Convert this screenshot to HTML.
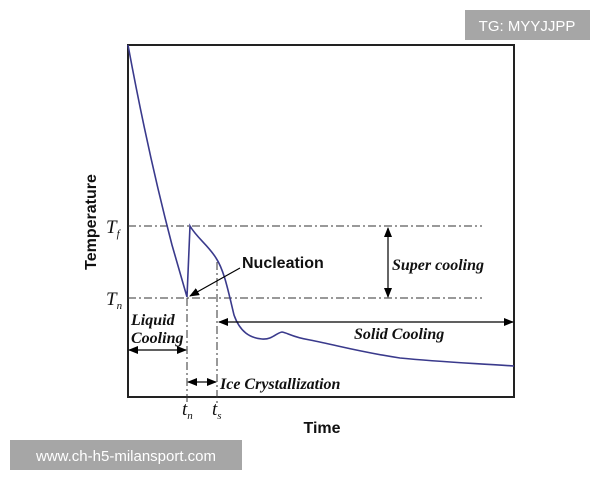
<!DOCTYPE html>
<html><head><style>body{margin:0;background:#fff}</style></head><body>
<svg width="600" height="480" xmlns="http://www.w3.org/2000/svg" style="display:block">
<defs>
<marker id="a" markerWidth="10" markerHeight="8" refX="9" refY="4" orient="auto" markerUnits="userSpaceOnUse"><path d="M0,0 L10,4 L0,8 z" fill="#000"/></marker>
</defs>
<rect x="465" y="10" width="125" height="30" fill="#a6a6a6"/>
<text x="527" y="31" font-family="Liberation Sans,sans-serif" font-size="15" fill="#fff" text-anchor="middle">TG: MYYJJPP</text>
<rect x="128" y="45" width="386" height="352" fill="none" stroke="#222" stroke-width="2"/>
<g stroke="#333" stroke-width="1" stroke-dasharray="8,3,2,3" fill="none">
<line x1="128" y1="226" x2="482" y2="226"/>
<line x1="128" y1="298" x2="482" y2="298"/>
<line x1="187" y1="298" x2="187" y2="404"/>
<line x1="217" y1="262" x2="217" y2="404"/>
</g>
<path d="M128,45 C140,110 155,180 172,245 L187,297 L190,226 C197,238 208,245 216,258 C224,270 228,290 234,315 C240,332 250,338 262,339 C272,340 276,333 282,332 C288,333 292,337 310,340 C340,346 360,352 400,358 C440,362 470,363 514,366" fill="none" stroke="#3a3a8c" stroke-width="1.6"/>
<g stroke="#000" stroke-width="1.2" fill="none">
<line x1="388" y1="240" x2="388" y2="228" marker-end="url(#a)"/>
<line x1="388" y1="280" x2="388" y2="297" marker-end="url(#a)"/>
<line x1="388" y1="240" x2="388" y2="280"/>
<line x1="300" y1="322" x2="513" y2="322" marker-end="url(#a)"/>
<line x1="300" y1="322" x2="219" y2="322" marker-end="url(#a)"/>
<line x1="157" y1="350" x2="186" y2="350" marker-end="url(#a)"/>
<line x1="157" y1="350" x2="129" y2="350" marker-end="url(#a)"/>
<line x1="202" y1="382" x2="216" y2="382" marker-end="url(#a)"/>
<line x1="202" y1="382" x2="188" y2="382" marker-end="url(#a)"/>
<line x1="240" y1="268" x2="190" y2="296" marker-end="url(#a)"/>
</g>
<g font-family="Liberation Serif,serif" font-style="italic" font-weight="bold" font-size="16" fill="#111">
<text x="392" y="270">Super cooling</text>
<text x="354" y="339">Solid Cooling</text>
<text x="131" y="325">Liquid</text>
<text x="131" y="343">Cooling</text>
<text x="220" y="389">Ice Crystallization</text>
</g>
<g font-family="Liberation Serif,serif" font-style="italic" font-size="19" fill="#111">
<text x="106" y="233">T<tspan font-size="11" dy="4">f</tspan></text>
<text x="106" y="305">T<tspan font-size="11" dy="4">n</tspan></text>
<text x="182" y="415">t<tspan font-size="11" dy="4">n</tspan></text>
<text x="212" y="415">t<tspan font-size="11" dy="4">s</tspan></text>
</g>
<text x="242" y="268" font-family="Liberation Sans,sans-serif" font-weight="bold" font-size="16" fill="#111">Nucleation</text>
<text x="322" y="433" font-family="Liberation Sans,sans-serif" font-weight="bold" font-size="16" fill="#111" text-anchor="middle">Time</text>
<text transform="translate(96,222) rotate(-90)" font-family="Liberation Sans,sans-serif" font-weight="bold" font-size="16" fill="#111" text-anchor="middle">Temperature</text>
<rect x="10" y="440" width="232" height="30" fill="#a6a6a6"/>
<text x="126" y="461" font-family="Liberation Sans,sans-serif" font-size="15" fill="#fff" text-anchor="middle">www.ch-h5-milansport.com</text>
</svg>
</body></html>
